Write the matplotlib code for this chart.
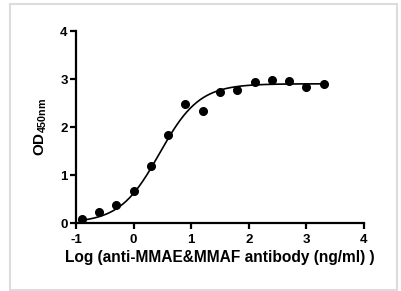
from matplotlib import pyplot as plt
from matplotlib.patches import Rectangle
import numpy as np

# data
log_conc = [-0.9, -0.6, -0.3, 0.0, 0.3, 0.6, 0.9, 1.2, 1.5, 1.8, 2.1, 2.4, 2.7, 3.0, 3.3]
od450 = [0.08, 0.22, 0.37, 0.67, 1.19, 1.84, 2.48, 2.33, 2.73, 2.77, 2.94, 2.98, 2.96, 2.84, 2.90]

# 4PL fit parameters (estimated from the drawn curve)
bottom = 0.0
top = 2.9
log_ec50 = 0.45
hill = 1.26

xticks = [-1, 0, 1, 2, 3, 4]
yticks = [0, 1, 2, 3, 4]

plt.rcParams['font.family'] = ['Liberation Sans', 'DejaVu Sans']
plt.rcParams['font.weight'] = 'bold'
plt.rcParams['axes.unicode_minus'] = False
plt.rcParams['mathtext.fontset'] = 'custom'
plt.rcParams['mathtext.rm'] = 'Liberation Sans:bold'
plt.rcParams['mathtext.bf'] = 'Liberation Sans:bold'
plt.rcParams['mathtext.default'] = 'bf'

fig = plt.figure(figsize=(4.01, 2.91), dpi=100)
fig.patches.append(Rectangle((10 / 401, 1 - 290 / 291), 387 / 401, 286 / 291,
                             transform=fig.transFigure, fill=False,
                             edgecolor='#dcdcdc', linewidth=1.5))
ax = fig.add_axes([76 / 401, 1 - 223 / 291, 288 / 401, 192 / 291])

xs = np.linspace(-0.95, 3.3, 300)
ys = bottom + (top - bottom) / (1 + 10 ** ((log_ec50 - xs) * hill))
ax.plot(xs, ys, color='black', linewidth=1.2)
ax.plot(log_conc, od450, 'o', color='black', markersize=5.5, clip_on=False)

ax.set_xlim(-1, 4)
ax.set_ylim(0, 4)
ax.set_xticks(xticks)
ax.set_yticks(yticks)
ax.spines['top'].set_visible(False)
ax.spines['right'].set_visible(False)
for s in ['left', 'bottom']:
    ax.spines[s].set_linewidth(1.6)
ax.tick_params(direction='out', length=4, width=1.6, labelsize=9.5)
ax.tick_params(axis='x', pad=4)
ax.tick_params(axis='y', pad=2)
for lab in ax.get_xticklabels() + ax.get_yticklabels():
    lab.set_fontweight('bold')

ax.set_xlabel('Log (anti-MMAE&MMAF antibody (ng/ml) )', fontsize=11.2,
              fontweight='bold', labelpad=3)
ax.set_ylabel('OD$_{450nm}$', fontsize=11, fontweight='bold', labelpad=8)

fig.savefig('out.png', dpi=100)
